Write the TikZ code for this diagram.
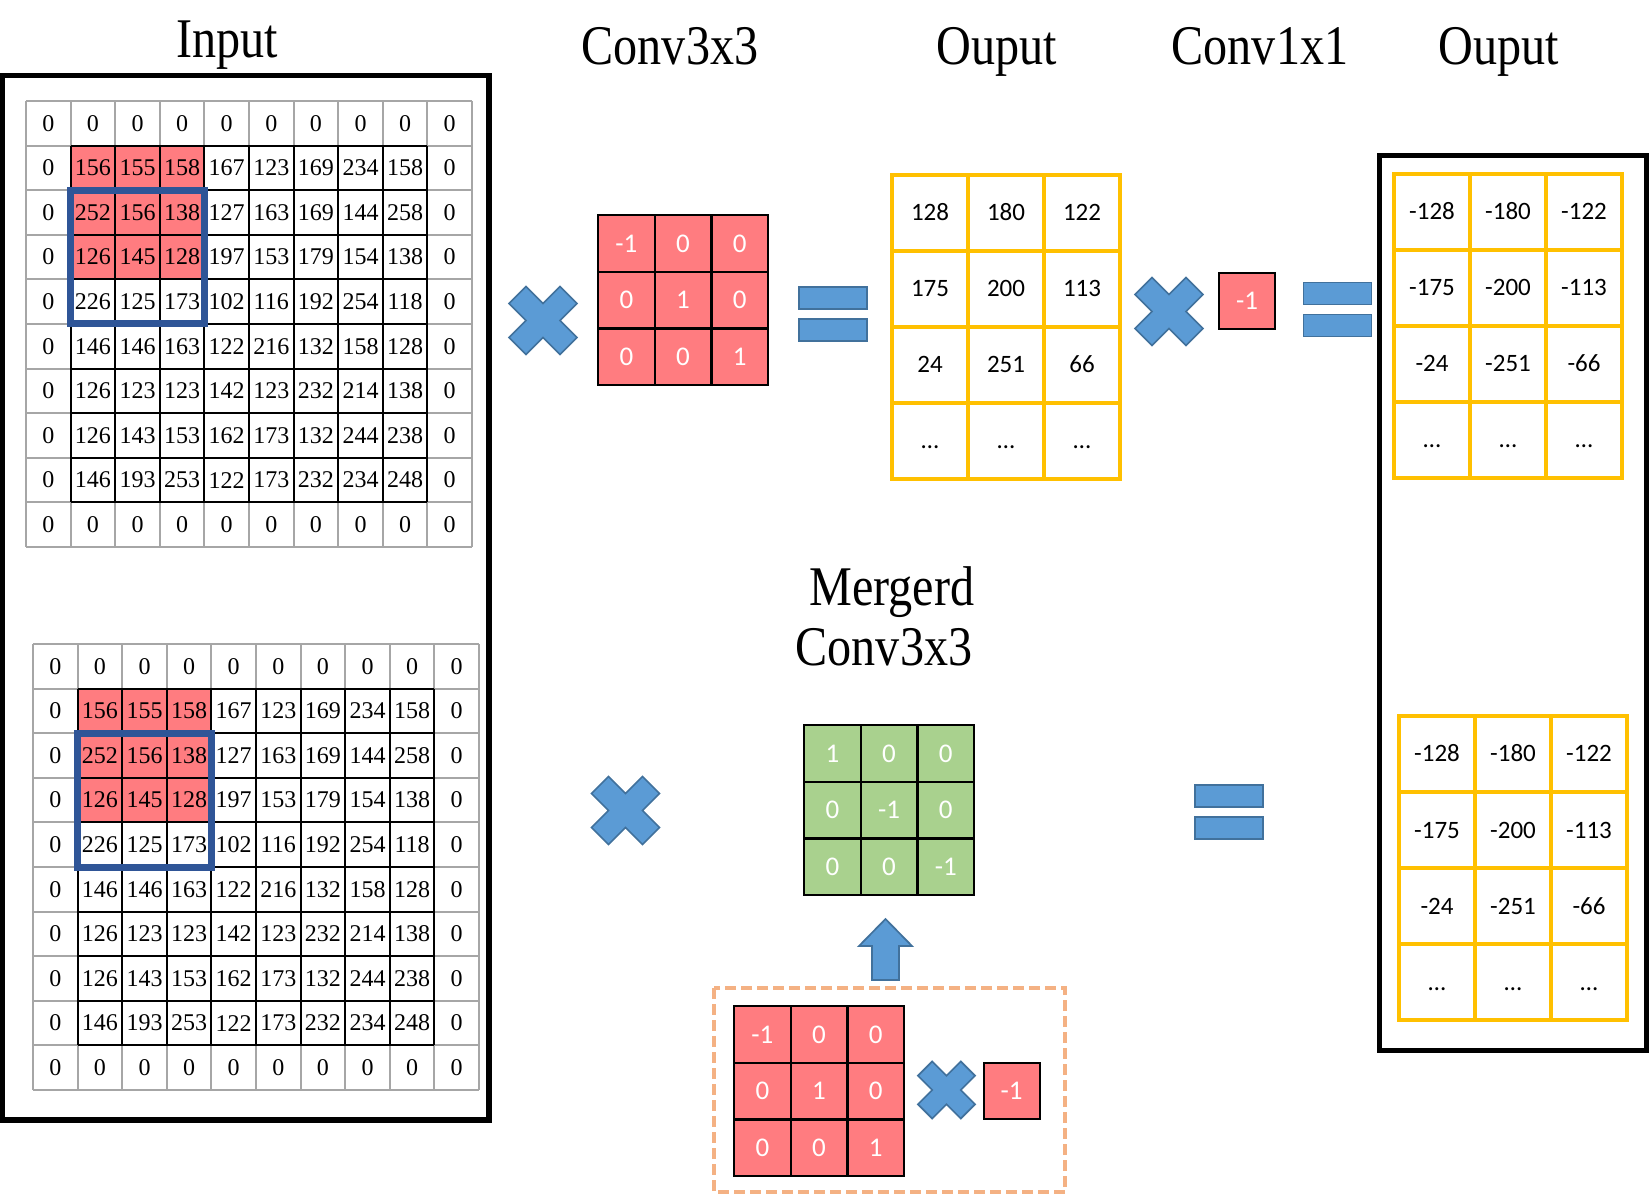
\documentclass[tikz,border=0pt]{standalone}
\usepackage{fontspec}
\setmainfont{Liberation Serif}
\newfontfamily\titlefont[FakeStretch=0.86]{Liberation Serif}
\newfontfamily\calibri{Carlito}
\usepackage{xcolor}
\usepackage{tikz}
\usetikzlibrary{calc}

\definecolor{cellred}{HTML}{FF7C80}
\definecolor{cellgreen}{HTML}{A9D18E}
\definecolor{outyellow}{HTML}{FFC000}
\definecolor{winblue}{HTML}{2F5597}
\definecolor{signfill}{HTML}{5B9BD5}
\definecolor{signline}{HTML}{41719C}
\definecolor{dashorange}{HTML}{F4B183}
\definecolor{gridgray}{HTML}{A6A6A6}

\begin{document}
\begin{tikzpicture}[x=0.5pt,y=-0.5pt,
    title/.style={font=\titlefont\fontsize{28}{30}\selectfont,anchor=base,inner sep=0pt},
    innum/.style={font=\fontsize{12}{14}\selectfont,inner sep=0pt},
    knum/.style={font=\calibri\fontsize{13.5}{15}\selectfont,text=white,inner sep=0pt},
    onum/.style={font=\calibri\fontsize{12.5}{15}\selectfont,inner sep=0pt,text height=8pt,text depth=0pt},
    kcell/.style={draw=black,line width=1.15pt,minimum size=28.35pt,knum},
    ocell/.style={draw=outyellow,line width=1.75pt,minimum size=38pt,onum},
    scalarbox/.style={draw=black,line width=1pt,fill=cellred,minimum size=28pt,knum},
    signshape/.style={fill=signfill,draw=signline,line width=0.85pt},
    mulsign/.pic={\draw[signshape] (-34,-17) -- (-17,-34) -- (0,-17) -- (17,-34) -- (34,-17) -- (17,0)
        -- (34,17) -- (17,34) -- (0,17) -- (-17,34) -- (-34,17) -- (-17,0) -- cycle;},
    eqsign/.pic={\draw[signshape] (-34,-27) rectangle (34,-5);
        \draw[signshape] (-34,5) rectangle (34,27);}
]
    \useasboundingbox (0,0) rectangle (1650,1197);

    % Titles
    \node[title] (t-input) at (227,58) {Input};
    \node[title] (t-conv3) at (670,65) {Conv3x3};
    \node[title] (t-out1) at (997,65) {Ouput};
    \node[title] (t-conv1) at (1260,65) {Conv1x1};
    \node[title] (t-out2) at (1499,65) {Ouput};
    \node[title] (t-merged) at (892,606) {Mergerd};
    \node[title] (t-mconv) at (884,666) {Conv3x3};

    % Frames
    \draw[line width=2.75pt] (2.5,75.5) rectangle (489,1120);
    \draw[line width=2.5pt] (1379.5,155.5) rectangle (1646.5,1050.5);

    % Input grids (padded 10x10, window in blue)
    \def\inputrows{{0,0,0,0,0,0,0,0,0,0},{0,156,155,158,167,123,169,234,158,0},
        {0,252,156,138,127,163,169,144,258,0},{0,126,145,128,197,153,179,154,138,0},
        {0,226,125,173,102,116,192,254,118,0},{0,146,146,163,122,216,132,158,128,0},
        {0,126,123,123,142,123,232,214,138,0},{0,126,143,153,162,173,132,244,238,0},
        {0,146,193,253,122,173,232,234,248,0},{0,0,0,0,0,0,0,0,0,0}}
    \foreach \gx/\gy/\gname in {26/101/top, 33/644/bot} {
        \begin{scope}[shift={(\gx,\gy)}]
            \fill[cellred] (44.6,44.6) rectangle (4*44.6,4*44.6);
            \foreach \i in {0,...,10} {
                \draw[gridgray,line width=1pt] (\i*44.6,0) -- (\i*44.6,446);
                \draw[gridgray,line width=1pt] (0,\i*44.6) -- (446,\i*44.6);
            }
            \foreach \i in {1,...,9} {
                \draw[line width=1pt] (\i*44.6,44.6) -- (\i*44.6,9*44.6);
                \draw[line width=1pt] (44.6,\i*44.6) -- (9*44.6,\i*44.6);
            }
            \foreach \row [count=\r from 0] in \inputrows {
                \foreach \v [count=\c from 0] in \row {
                    \node[innum] (\gname-\r-\c) at ({(\c+0.5)*44.6},{(\r+0.5)*44.6}) {\v};
                }
            }
            \draw[winblue,line width=3.5pt] (44.6,2*44.6) rectangle (4*44.6,5*44.6);
        \end{scope}
    }

    % Conv3x3 kernels (red)
    \foreach \gx/\gy/\gname in {598/215/k1, 734/1006/kb} {
        \begin{scope}[shift={(\gx,\gy)}]
            \foreach \row [count=\r from 0] in {{-1,0,0},{0,1,0},{0,0,1}} {
                \foreach \v [count=\c from 0] in \row {
                    \node[kcell,fill=cellred] (\gname-\r-\c) at ({(\c+0.5)*56.7},{(\r+0.5)*56.7}) {\v};
                }
            }
        \end{scope}
    }

    % Merged Conv3x3 kernel (green)
    \begin{scope}[shift={(804,725)}]
        \foreach \row [count=\r from 0] in {{1,0,0},{0,-1,0},{0,0,-1}} {
            \foreach \v [count=\c from 0] in \row {
                \node[kcell,fill=cellgreen] (km-\r-\c) at ({(\c+0.5)*56.7},{(\r+0.5)*56.7}) {\v};
            }
        }
    \end{scope}

    % Output grids (yellow)
    \foreach \gx/\gy/\gname/\sgn in {892/175/o1/{}, 1394/174/o2/-, 1399/716/o3/-} {
        \begin{scope}[shift={(\gx,\gy)}]
            \foreach \row [count=\r from 0] in {{128,180,122},{175,200,113},{24,251,66}} {
                \foreach \v [count=\c from 0] in \row {
                    \node[ocell] (\gname-\r-\c) at ({(\c+0.5)*76},{(\r+0.5)*76}) {\sgn\v};
                }
            }
            \foreach \c in {0,1,2} {
                \node[ocell] (\gname-3-\c) at ({(\c+0.5)*76},{3.5*76}) {…};
            }
        \end{scope}
    }

    % Conv1x1 scalars
    \node[scalarbox] (s1) at (1247,301) {-1};
    \node[scalarbox] (s2) at (1011.5,1091) {-1};

    % Operators
    \pic (x1) at (543,320.5) {mulsign};
    \pic (x2) at (1169,311.5) {mulsign};
    \pic (x3) at (625.5,810.5) {mulsign};
    \pic[scale=0.84] (x4) at (946.5,1090) {mulsign};
    \pic (e1) at (833,314) {eqsign};
    \pic (e2) at (1337.5,309.5) {eqsign};
    \pic (e3) at (1229,812) {eqsign};

    % Merge: dashed box and up arrow
    \draw[dashorange,line width=2.4pt,dash pattern=on 5.5pt off 2.5pt] (714,988) rectangle (1065,1192);
    \coordinate (up) at (885.5,980);
    \draw[signshape] (up) ++(-13.5,0) -- ++(0,-34) -- ++(-13,0) -- ++(26.5,-27) -- ++(26.5,27)
        -- ++(-13,0) -- ++(0,34) -- cycle;
\end{tikzpicture}
\end{document}
